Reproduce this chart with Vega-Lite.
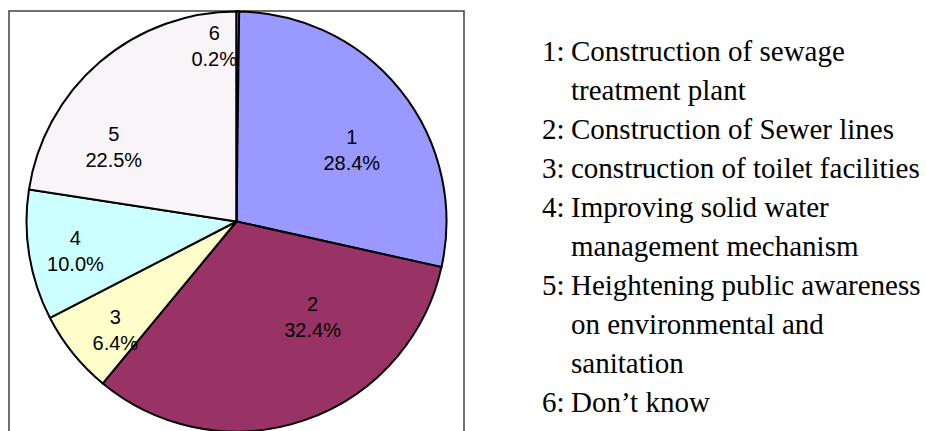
{
  "$schema": "https://vega.github.io/schema/vega-lite/v6.json",
  "background": "white",
  "padding": {"left": 8, "top": 6, "right": 0, "bottom": 0},
  "bounds": "flush",
  "spacing": 17,
  "config": {
    "view": {"stroke": null},
    "text": {"font": "Liberation Sans, Arial, sans-serif", "fontSize": 20, "color": "black", "baseline": "middle", "align": "center"}
  },
  "hconcat": [
    {
      "width": 455,
      "height": 421,
      "view": {"stroke": "#404040", "strokeWidth": 1.5},
      "data": {
        "values": [
          {"id": 1, "share": 0.284},
          {"id": 2, "share": 0.324},
          {"id": 3, "share": 0.064},
          {"id": 4, "share": 0.100},
          {"id": 5, "share": 0.225},
          {"id": 6, "share": 0.002}
        ]
      },
      "transform": [
        {"stack": "share", "groupby": [], "sort": [{"field": "id", "order": "ascending"}], "as": ["t0", "t1"]}
      ],
      "layer": [
        {
          "mark": {"type": "arc", "outerRadius": 210, "stroke": "black", "strokeWidth": 2},
          "encoding": {
            "theta": {"field": "t0", "type": "quantitative"},
            "theta2": {"field": "t1"},
            "color": {
              "field": "id",
              "type": "nominal",
              "scale": {"domain": [1, 2, 3, 4, 5, 6], "range": ["#9999FF", "#993366", "#FFFFCC", "#CCFFFF", "#F8F4F8", "#FF8080"]},
              "legend": null
            }
          }
        },
        {"transform": [{"filter": "datum.id == 1"}], "mark": {"type": "text", "radius": 135, "thetaOffset": 1.023, "dy": -13},
         "encoding": {"theta": {"field": "t0", "type": "quantitative"}, "text": {"field": "id", "type": "nominal"}}},
        {"transform": [{"filter": "datum.id == 1"}], "mark": {"type": "text", "radius": 135, "thetaOffset": 1.023, "dy": 13},
         "encoding": {"theta": {"field": "t0", "type": "quantitative"}, "text": {"field": "share", "type": "quantitative", "format": ".1%"}}},
        {"transform": [{"filter": "datum.id == 2"}], "mark": {"type": "text", "radius": 123, "thetaOffset": 0.685, "dy": -13},
         "encoding": {"theta": {"field": "t0", "type": "quantitative"}, "text": {"field": "id", "type": "nominal"}}},
        {"transform": [{"filter": "datum.id == 2"}], "mark": {"type": "text", "radius": 123, "thetaOffset": 0.685, "dy": 13},
         "encoding": {"theta": {"field": "t0", "type": "quantitative"}, "text": {"field": "share", "type": "quantitative", "format": ".1%"}}},
        {"transform": [{"filter": "datum.id == 3"}], "mark": {"type": "text", "radius": 163, "thetaOffset": 0.148, "dy": -13},
         "encoding": {"theta": {"field": "t0", "type": "quantitative"}, "text": {"field": "id", "type": "nominal"}}},
        {"transform": [{"filter": "datum.id == 3"}], "mark": {"type": "text", "radius": 163, "thetaOffset": 0.148, "dy": 13},
         "encoding": {"theta": {"field": "t0", "type": "quantitative"}, "text": {"field": "share", "type": "quantitative", "format": ".1%"}}},
        {"transform": [{"filter": "datum.id == 4"}], "mark": {"type": "text", "radius": 164, "thetaOffset": 0.288, "dy": -13},
         "encoding": {"theta": {"field": "t0", "type": "quantitative"}, "text": {"field": "id", "type": "nominal"}}},
        {"transform": [{"filter": "datum.id == 4"}], "mark": {"type": "text", "radius": 164, "thetaOffset": 0.288, "dy": 13},
         "encoding": {"theta": {"field": "t0", "type": "quantitative"}, "text": {"field": "share", "type": "quantitative", "format": ".1%"}}},
        {"transform": [{"filter": "datum.id == 5"}], "mark": {"type": "text", "radius": 143, "thetaOffset": 0.386, "dy": -13},
         "encoding": {"theta": {"field": "t0", "type": "quantitative"}, "text": {"field": "id", "type": "nominal"}}},
        {"transform": [{"filter": "datum.id == 5"}], "mark": {"type": "text", "radius": 143, "thetaOffset": 0.386, "dy": 13},
         "encoding": {"theta": {"field": "t0", "type": "quantitative"}, "text": {"field": "share", "type": "quantitative", "format": ".1%"}}},
        {"transform": [{"filter": "datum.id == 6"}], "mark": {"type": "text", "radius": 176, "thetaOffset": -0.127, "dy": -13},
         "encoding": {"theta": {"field": "t0", "type": "quantitative"}, "text": {"field": "id", "type": "nominal"}}},
        {"transform": [{"filter": "datum.id == 6"}], "mark": {"type": "text", "radius": 176, "thetaOffset": -0.127, "dy": 13},
         "encoding": {"theta": {"field": "t0", "type": "quantitative"}, "text": {"field": "share", "type": "quantitative", "format": ".1%"}}}
      ]
    },
    {
      "width": 446,
      "height": 421,
      "data": {
        "values": [
          {"line": 0, "num": "1:", "text": "Construction of sewage"},
          {"line": 1, "num": "", "text": "treatment plant"},
          {"line": 2, "num": "2:", "text": "Construction of Sewer lines"},
          {"line": 3, "num": "3:", "text": "construction of toilet facilities"},
          {"line": 4, "num": "4:", "text": "Improving solid water"},
          {"line": 5, "num": "", "text": "management mechanism"},
          {"line": 6, "num": "5:", "text": "Heightening public awareness"},
          {"line": 7, "num": "", "text": "on environmental and"},
          {"line": 8, "num": "", "text": "sanitation"},
          {"line": 9, "num": "6:", "text": "Don’t know"}
        ]
      },
      "encoding": {
        "y": {"field": "line", "type": "quantitative", "scale": {"domain": [0, 9], "range": [49.5, 400.5]}, "axis": null}
      },
      "layer": [
        {
          "transform": [{"filter": "datum.num != ''"}],
          "mark": {"type": "text", "font": "Liberation Serif, Times New Roman, DejaVu Serif, serif", "fontSize": 29, "align": "left", "baseline": "alphabetic"},
          "encoding": {
            "x": {"datum": "number", "type": "nominal", "scale": {"type": "point", "domain": ["number", "description"], "range": [61, 90], "padding": 0}, "axis": null},
            "text": {"field": "num", "type": "nominal"}
          }
        },
        {
          "mark": {"type": "text", "font": "Liberation Serif, Times New Roman, DejaVu Serif, serif", "fontSize": 29, "align": "left", "baseline": "alphabetic"},
          "encoding": {
            "x": {"datum": "description", "type": "nominal", "scale": {"type": "point", "domain": ["number", "description"], "range": [61, 90], "padding": 0}, "axis": null},
            "text": {"field": "text", "type": "nominal"}
          }
        }
      ]
    }
  ]
}
